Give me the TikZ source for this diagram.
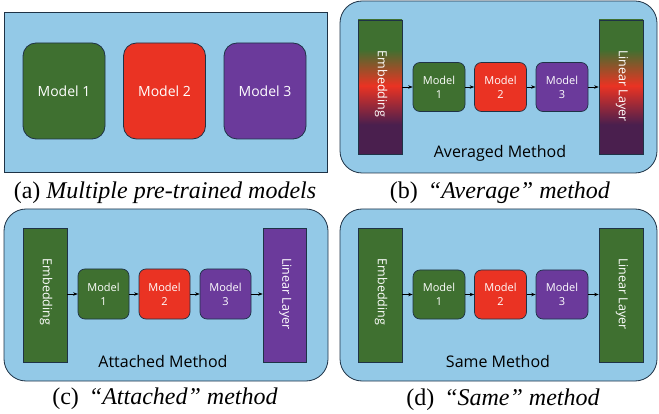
\documentclass[tikz,border=0pt]{standalone}
\usepackage{fontspec}
\setmainfont{Liberation Serif}
\newfontfamily\diag{Open Sans}
\usetikzlibrary{arrows.meta}
\definecolor{bgblue}{HTML}{93C9E7}
\definecolor{mgreen}{HTML}{3F7030}
\definecolor{mred}{HTML}{EA3323}
\definecolor{mpurple}{HTML}{6B3A9B}
\definecolor{dpurple}{HTML}{4A1F4E}
\definecolor{edge}{HTML}{1E3246}
\pgfdeclareverticalshading{embshade}{100bp}{color(0bp)=(dpurple); color(36bp)=(dpurple); color(50.5bp)=(mred); color(64bp)=(mgreen); color(100bp)=(mgreen)}
\tikzset{
  panel/.style={draw=edge, line width=0.8pt, fill=bgblue, inner sep=0pt},
  bigmodel/.style={draw=edge, line width=0.8pt, rounded corners=13pt, minimum width=82pt, minimum height=96pt, text=white, font=\diag\fontsize{14}{16}\selectfont},
  model/.style={draw=edge, line width=0.7pt, rounded corners=7pt, minimum width=52pt, minimum height=49pt, text=white, align=center, inner sep=0pt, font=\diag\fontsize{11}{14}\selectfont},
  bar/.style={draw=edge, line width=0.7pt, minimum width=44pt, minimum height=134pt, inner sep=0pt},
  bartext/.style={rotate=-90, text=white, inner sep=0pt, font=\diag\fontsize{12.5}{14}\selectfont},
  arr/.style={-{Stealth[length=4.5pt,width=3.5pt]}, line width=0.6pt},
  methlabel/.style={inner sep=0pt, font=\diag\fontsize{16}{18}\selectfont},
  caption/.style={inner sep=0pt, font=\fontsize{24}{28}\selectfont}
}
\begin{document}
\begin{tikzpicture}[x=1pt,y=-1pt]
\useasboundingbox (0,0) rectangle (659,414);
% ---- (a)
\node[panel, minimum width=323pt, minimum height=160pt] (pa) at (165.5,92) {};
\node[bigmodel, fill=mgreen] (a1) at (64,91) {Model 1};
\node[bigmodel, fill=mred] (a2) at (164.5,91) {Model 2};
\node[bigmodel, fill=mpurple] (a3) at (265,91) {Model 3};
\node[caption] (ca) at (165,193) {(a) \textit{Multiple pre-trained models}};
% ---- (b)
\node[panel, rounded corners=22pt, minimum width=317pt, minimum height=172pt] (pb) at (498.5,87) {};
\node[bar, shade, shading=embshade] (be) at (380,87) {};
\node[bartext] (bet) at (381,84) {Embedding};
\node[bar, shade, shading=embshade] (bl) at (621,87) {};
\node[bartext] (blt) at (622,86) {Linear Layer};
\node[model, fill=mgreen] (b1) at (439,87) {Model\\1};
\node[model, fill=mred] (b2) at (500.5,87) {Model\\2};
\node[model, fill=mpurple] (b3) at (562,87) {Model\\3};
\draw[arr] (be.east) -- (b1.west);
\draw[arr] (b1.east) -- (b2.west);
\draw[arr] (b2.east) -- (b3.west);
\draw[arr] (b3.east) -- (bl.west);
\node[methlabel] (bm) at (500,153) {Averaged Method};
\node[caption] (cb) at (500,193) {(b)\, \textit{“Average” method}};
% ---- (c)
\node[panel, rounded corners=22pt, minimum width=324pt, minimum height=172pt] (pc) at (166,295) {};
\node[bar, fill=mgreen] (ce) at (45,295) {};
\node[bartext] (cet) at (46,292) {Embedding};
\node[bar, fill=mpurple, minimum width=43pt] (cl) at (284.5,295) {};
\node[bartext] (clt) at (285.5,294) {Linear Layer};
\node[model, fill=mgreen, minimum width=51pt, minimum height=50pt] (c1) at (103.5,294) {Model\\1};
\node[model, fill=mred, minimum width=51pt, minimum height=50pt] (c2) at (164.5,294) {Model\\2};
\node[model, fill=mpurple, minimum width=51pt, minimum height=50pt] (c3) at (225.5,294) {Model\\3};
\draw[arr] (ce.east |- c1.west) -- (c1.west);
\draw[arr] (c1.east) -- (c2.west);
\draw[arr] (c2.east) -- (c3.west);
\draw[arr] (c3.east) -- (cl.west |- c3.east);
\node[methlabel] (cm) at (163,361) {Attached Method};
\node[caption] (cc) at (165,399) {(c)\, \textit{“Attached” method}};
% ---- (d)
\node[panel, rounded corners=22pt, minimum width=317pt, minimum height=172pt] (pd) at (498.5,295) {};
\node[bar, fill=mgreen] (de) at (380,295) {};
\node[bartext] (det) at (381,292) {Embedding};
\node[bar, fill=mgreen] (dl) at (621,295) {};
\node[bartext] (dlt) at (622,294) {Linear Layer};
\node[model, fill=mgreen] (d1) at (439,294.5) {Model\\1};
\node[model, fill=mred] (d2) at (500.5,294.5) {Model\\2};
\node[model, fill=mpurple] (d3) at (562,294.5) {Model\\3};
\draw[arr] (de.east |- d1.west) -- (d1.west);
\draw[arr] (d1.east) -- (d2.west);
\draw[arr] (d2.east) -- (d3.west);
\draw[arr] (d3.east) -- (dl.west |- d3.east);
\node[methlabel] (dm) at (498,361) {Same Method};
\node[caption] (cd) at (503,400) {(d)\, \textit{“Same” method}};
\end{tikzpicture}
\end{document}
